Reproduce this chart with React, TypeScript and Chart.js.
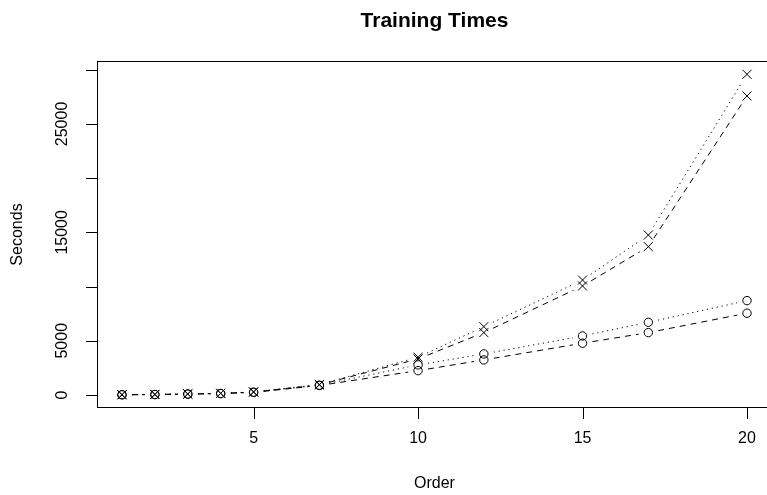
import React, { useEffect, useRef } from 'react';
import { Chart, registerables } from 'chart.js';

Chart.register(...registerables);

// ---- data ----
const orders = [1, 2, 3, 4, 5, 7, 10, 12, 15, 17, 20];
const crossDotted = [20, 45, 90, 150, 280, 960, 3480, 6300, 10600, 14750, 29580];
const crossDashed = [18, 42, 85, 140, 265, 930, 3320, 5750, 10050, 13680, 27580];
const circleDotted = [16, 38, 80, 130, 250, 900, 2770, 3780, 5440, 6700, 8700];
const circleDashed = [15, 35, 75, 120, 235, 870, 2240, 3230, 4770, 5750, 7540];

const xTicks = [5, 10, 15, 20];
const xTickLabels = ['5', '10', '15', '20'];
const yTicks = [0, 5000, 10000, 15000, 20000, 25000, 30000];
const yTickLabels = ['0', '5000', '', '15000', '', '25000', ''];

const chartTitle = 'Training Times';
const xTitle = 'Order';
const yTitle = 'Seconds';

const FONT = '"Liberation Sans", Arial, Helvetica, sans-serif';
const GAP = 10;

const gapPlugin = {
  id: 'gapPlugin',
  beforeDatasetDraw(chart: any, args: any) {
    const ds = chart.data.datasets[args.index];
    if (!ds.gapLine) return;
    const ctx = chart.ctx;
    ctx.save();
    ctx.beginPath();
    ctx.rect(0, 0, chart.width, chart.height);
    for (const p of args.meta.data) {
      ctx.moveTo(p.x + GAP, p.y);
      ctx.arc(p.x, p.y, GAP, 0, Math.PI * 2);
    }
    ctx.clip('evenodd');
  },
  afterDatasetDraw(chart: any, args: any) {
    const ds = chart.data.datasets[args.index];
    if (!ds.gapLine) return;
    chart.ctx.restore();
  },
};

const axesPlugin = {
  id: 'rAxes',
  afterDraw(chart: any) {
    const ctx = chart.ctx;
    const { left, right, top, bottom } = chart.chartArea;
    const x = chart.scales.x;
    const y = chart.scales.y;
    ctx.save();
    ctx.strokeStyle = '#000';
    ctx.lineWidth = 1;
    const L = Math.floor(left) + 0.5;
    const T = Math.floor(top) + 0.5;
    const B = Math.floor(bottom) + 0.5;
    const R = Math.floor(right) + 0.5;
    ctx.strokeRect(L, T, R - L, B - T);

    // y axis
    const y0 = Math.round(y.getPixelForValue(yTicks[0])) + 0.5;
    const y1 = Math.round(y.getPixelForValue(yTicks[yTicks.length - 1])) + 0.5;
    ctx.beginPath();
    ctx.moveTo(L, y0);
    ctx.lineTo(L, y1);
    yTicks.forEach((v) => {
      const py = Math.round(y.getPixelForValue(v)) + 0.5;
      ctx.moveTo(L - 11.5, py);
      ctx.lineTo(L, py);
    });
    // x axis
    const x0 = Math.round(x.getPixelForValue(xTicks[0])) + 0.5;
    const x1 = Math.round(x.getPixelForValue(xTicks[xTicks.length - 1])) + 0.5;
    ctx.moveTo(x0, B);
    ctx.lineTo(x1, B);
    xTicks.forEach((v) => {
      const px = Math.round(x.getPixelForValue(v)) + 0.5;
      ctx.moveTo(px, B);
      ctx.lineTo(px, B + 11.5);
    });
    ctx.stroke();

    ctx.fillStyle = '#000';
    ctx.font = `16px ${FONT}`;
    ctx.textAlign = 'center';
    ctx.textBaseline = 'middle';
    xTicks.forEach((v, i) => {
      ctx.fillText(xTickLabels[i], x.getPixelForValue(v), 439);
    });
    yTicks.forEach((v, i) => {
      if (!yTickLabels[i]) return;
      ctx.save();
      ctx.translate(63, y.getPixelForValue(v));
      ctx.rotate(-Math.PI / 2);
      ctx.fillText(yTickLabels[i], 0, 0);
      ctx.restore();
    });
    ctx.fillText(xTitle, (left + right) / 2, 484);
    ctx.save();
    ctx.translate(18, (top + bottom) / 2);
    ctx.rotate(-Math.PI / 2);
    ctx.fillText(yTitle, 0, 0);
    ctx.restore();

    ctx.font = `bold 21px ${FONT}`;
    ctx.textBaseline = 'alphabetic';
    ctx.fillText(chartTitle, (left + right) / 2, 27);
    ctx.restore();
  },
};

function lineSet(values: number[], dash: number[]) {
  const period = dash[0] + dash[1];
  const base = (((period - GAP) % period) + period) % period;
  return {
    data: orders.map((o, i) => ({ x: o, y: values[i] })),
    borderColor: '#000',
    borderWidth: 1,
    borderDash: dash,
    pointRadius: 0,
    pointHoverRadius: 0,
    fill: false,
    tension: 0,
    gapLine: true,
    segment: {
      borderDashOffset: (c: any) => base + c.p0DataIndex * period,
    },
  } as any;
}

function pointSet(values: number[], style: string, radius: number) {
  return {
    data: orders.map((o, i) => ({ x: o, y: values[i] })),
    showLine: false,
    pointStyle: style,
    pointRadius: radius,
    pointHoverRadius: radius,
    pointBorderColor: '#000',
    pointBackgroundColor: 'rgba(0,0,0,0)',
    pointBorderWidth: 1,
    borderColor: '#000',
  } as any;
}

const DOTTED = [1.2, 3.8];
const DASHED = [6, 5];

export default function App() {
  const ref = useRef<HTMLCanvasElement>(null);
  useEffect(() => {
    if (!ref.current) return;
    const chart = new Chart(ref.current, {
      type: 'line',
      data: {
        datasets: [
          lineSet(crossDotted, DOTTED),
          lineSet(crossDashed, DASHED),
          lineSet(circleDotted, DOTTED),
          lineSet(circleDashed, DASHED),
          pointSet(crossDotted, 'crossRot', 6.4),
          pointSet(crossDashed, 'crossRot', 6.4),
          pointSet(circleDotted, 'circle', 4.2),
          pointSet(circleDashed, 'circle', 4.2),
        ],
      },
      options: {
        animation: false,
        responsive: false,
        maintainAspectRatio: false,
        devicePixelRatio: 1,
        events: [],
        layout: { padding: { left: 97, top: 61.5, right: 28, bottom: 87.5 } },
        plugins: { legend: { display: false }, tooltip: { enabled: false }, title: { display: false } },
        scales: {
          x: { type: 'linear', min: 0.24, max: 20.76, display: false },
          y: { type: 'linear', min: -1160, max: 30760, display: false },
        },
      },
      plugins: [gapPlugin, axesPlugin],
    });
    return () => chart.destroy();
  }, []);
  return (
    <div style={{ position: 'fixed', left: 0, top: 0, width: 767, height: 495, overflow: 'hidden', background: '#fff' }}>
      <canvas ref={ref} width={800} height={495} style={{ display: 'block', width: 800, height: 495 }} />
    </div>
  );
}
